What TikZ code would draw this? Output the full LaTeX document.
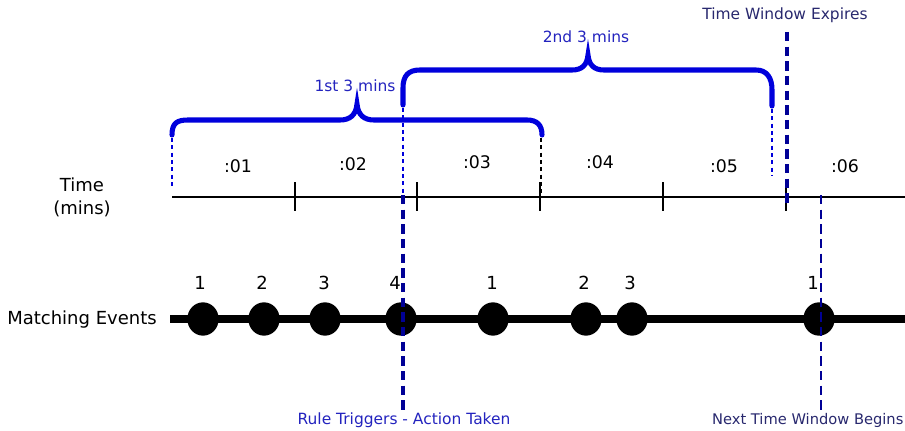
\documentclass[tikz,border=0pt]{standalone}
\usepackage{fontspec}
\setmainfont{DejaVu Sans}
\definecolor{bracecol}{RGB}{0,0,220}
\definecolor{labelcol}{RGB}{35,35,190}
\definecolor{navycol}{RGB}{0,0,150}
\definecolor{darkcol}{RGB}{40,40,110}
\tikzset{
  axislabel/.style={font=\fontsize{13.5}{16}\selectfont},
  minlabel/.style={font=\fontsize{13}{15}\selectfont},
  bluelabel/.style={font=\fontsize{11.6}{14}\selectfont, text=labelcol},
  darklabel/.style={font=\fontsize{11.6}{14}\selectfont, text=darkcol},
  brace/.style={bracecol, line width=3.8pt, line cap=round},
  thinmark/.style={line width=0.9pt, dash pattern=on 3pt off 2.5pt},
  bigmark/.style={navycol, line width=2.8pt, dash pattern=on 7pt off 4pt},
  eventdot/.style={ellipse, fill=black, minimum width=23.5pt, minimum height=25pt, inner sep=0pt}
}
\usetikzlibrary{shapes.geometric}
\begin{document}
\begin{tikzpicture}[x=0.75pt, y=-0.75pt]
    \useasboundingbox (0,0) rectangle (905,431);

    % Time axis
    \node[axislabel] (timelbl) at (82,185) {Time};
    \node[axislabel] (minslbl) at (82,209) {(mins)};
    \coordinate (axisL) at (172,197);
    \coordinate (axisR) at (905,197);
    \draw[line width=0.8pt] (axisL) -- (axisR);
    \foreach \tx in {295,417,540,663,786}
        \draw[line width=0.8pt] (\tx,182) -- (\tx,211);

    % Minute labels
    \node[minlabel] (m1) at (238,166) {:01};
    \node[minlabel] (m2) at (353,164) {:02};
    \node[minlabel] (m3) at (477,162) {:03};
    \node[minlabel] (m4) at (600,162) {:04};
    \node[minlabel] (m5) at (724,166) {:05};
    \node[minlabel] (m6) at (845,166) {:06};

    % First window brace
    \draw[brace] (172,135) .. controls (172,123) and (177,120) .. (188,120)
        -- (340,120) .. controls (350,120) and (356,115) .. (357,104)
        .. controls (358,115) and (364,120) .. (374,120)
        -- (527,120) .. controls (537,120) and (542,125) .. (542,135);
    \node[bluelabel] (first) at (355,86) {1st 3 mins};
    \draw[thinmark, bracecol] (172,138) -- (172,186);
    \draw[thinmark, black] (541,138) -- (541,197);

    % Second window brace
    \draw[brace] (403,105) -- (403,88) .. controls (403,76) and (408,70) .. (420,70)
        -- (572,70) .. controls (582,70) and (587,65) .. (588,55)
        .. controls (589,65) and (594,70) .. (604,70)
        -- (756,70) .. controls (767,70) and (772,78) .. (772,90) -- (772,106);
    \node[bluelabel] (second) at (586,37) {2nd 3 mins};
    \draw[thinmark, bracecol] (403,108) -- (403,195);
    \draw[thinmark, bracecol] (772,109) -- (772,176);

    % Window expiry
    \node[darklabel] (expires) at (785,15) {Time Window Expires};
    \coordinate (expTop) at (787,32);
    \coordinate (expBot) at (787,206);
    \draw[bigmark] (expTop) -- (expBot);

    % Matching events
    \node[axislabel] (events) at (82,320) {Matching Events};
    \coordinate (evL) at (170,319);
    \coordinate (evR) at (905,319);
    \draw[line width=5.5pt] (evL) -- (evR);
    \foreach \ex/\lx/\en [count=\k] in {203/200/1,264/262/2,325/324/3,401/395/4,
                                        493/492/1,586/584/2,632/630/3,819/813/1} {
        \node[eventdot] (e\k) at (\ex,319) {};
        \node[axislabel] (n\k) at (\lx,283) {\en};
    }

    % Rule trigger and next window
    \coordinate (trigTop) at (403,195);
    \coordinate (trigBot) at (403,412);
    \draw[bigmark] (trigTop) -- (trigBot);
    \node[bluelabel] (trigger) at (404,420) {Rule Triggers - Action Taken};
    \coordinate (nextTop) at (821,195);
    \coordinate (nextBot) at (821,412);
    \draw[bigmark, line width=2.2pt] (nextTop) -- (nextBot);
    \node[darklabel, font=\fontsize{11}{13}\selectfont, anchor=east, inner xsep=1pt] (nextwin) at (905,420) {Next Time Window Begins};
\end{tikzpicture}
\end{document}
